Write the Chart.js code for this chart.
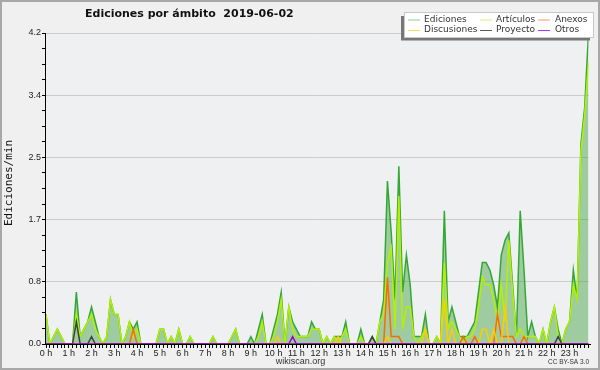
<!DOCTYPE html>
<html><head><meta charset="utf-8">
<script src="https://cdn.jsdelivr.net/npm/chart.js@4"></script>
<style>html,body{margin:0;padding:0;background:#f0f0f0}#wrap{width:600px;height:370px}</style>
</head><body><div id="wrap"><canvas id="c" width="600" height="370"></canvas></div>
<script>
const chartTitle = 'Ediciones por ámbito  2019-06-02';
const yTitle = 'Ediciones/min';
const hourLabels = ['0 h','1 h','2 h','3 h','4 h','5 h','6 h','7 h','8 h','9 h','10 h','11 h','12 h','13 h','14 h','15 h','16 h','17 h','18 h','19 h','20 h','21 h','22 h','23 h'];
const yTickLabels = ['0.0','0.8','1.7','2.5','3.4','4.2'];
const yMax = 4.2;
const seriesNames = ['Ediciones','Artículos','Anexos','Discusiones','Proyecto','Otros'];

// one value per 10 minutes (edits/min)
const ediciones = [
 0.4,0,0.1,0.2,0.1,0,0,0,0.7,0.1,
 0.2,0.3,0.5,0.3,0.1,0,0.1,0.6,0.4,0.4,
 0,0.1,0.3,0.2,0.3,0,0,0,0,0,
 0.2,0.2,0,0.1,0,0.2,0,0,0.1,0,
 0,0,0,0,0.1,0,0,0,0,0.1,
 0.2,0,0,0,0.1,0,0.2,0.4,0,0,
 0.2,0.4,0.7,0,0.5,0.3,0.2,0.1,0.1,0.1,
 0.3,0.2,0.2,0,0.1,0,0.1,0.1,0.1,0.3,
 0,0,0,0.2,0,0,0.1,0,0.3,0.6,
 2.2,1.5,0.6,2.4,0.7,1.2,0.8,0.1,0.1,0.1,
 0.4,0,0,0.1,0,1.8,0.3,0.5,0.3,0.1,
 0.1,0.1,0.2,0.3,0.7,1.1,1.1,1.0,0.8,0.5,
 1.2,1.4,1.5,0.8,0.1,1.8,1.0,0.1,0.3,0.1,
 0,0.2,0,0.3,0.5,0.2,0,0.2,0.3,1.0,
 0.6,2.7,3.2,4.2];
const articulos = [
 0.4,0,0.1,0.2,0.1,0,0,0,0.4,0.1,
 0.2,0.3,0.4,0.2,0.1,0,0.1,0.6,0.4,0.4,
 0,0.1,0.3,0.1,0.2,0,0,0,0,0,
 0.2,0.2,0,0.1,0,0.2,0,0,0.1,0,
 0,0,0,0,0.1,0,0,0,0,0.1,
 0.2,0,0,0,0,0,0.1,0.3,0,0,
 0.1,0.3,0.6,0,0.5,0.2,0.1,0.1,0.1,0.1,
 0.2,0.2,0.2,0,0.1,0,0.1,0,0.1,0.2,
 0,0,0,0.1,0,0,0,0,0.3,0.4,
 1.1,1.3,0.2,2.0,0.2,0.5,0.5,0.1,0,0.1,
 0.2,0,0,0.1,0,1.1,0.2,0.3,0.2,0.1,
 0,0.1,0.1,0.2,0.5,0.9,0.8,0.8,0.6,0.3,
 0.8,0.3,1.4,0.7,0.1,0.2,0.1,0.1,0.1,0.1,
 0,0.2,0,0.3,0.5,0.1,0,0.2,0.3,0.8,
 0.6,2.6,3.1,3.8];
const anexos = [
 0,0,0,0,0,0,0,0,0,0,
 0,0,0,0,0,0,0,0,0,0,
 0,0,0,0.2,0,0,0,0,0,0,
 0,0,0,0,0,0,0,0,0,0,
 0,0,0,0,0,0,0,0,0,0,
 0,0,0,0,0,0,0,0,0,0,
 0,0,0,0,0,0,0,0,0,0,
 0,0,0,0,0,0,0,0,0,0,
 0,0,0,0,0,0,0,0,0,0,
 0.9,0.1,0.1,0.1,0,0,0,0,0,0,
 0,0,0,0,0,0,0,0,0,0,
 0.1,0,0,0.1,0,0,0,0,0,0.4,
 0.1,0.1,0.1,0.1,0,0,0.1,0,0,0,
 0,0,0,0,0,0,0,0,0,0,
 0,0,0,0];
const discusiones = [
 0,0,0,0,0,0,0,0,0,0,
 0,0,0,0,0,0,0,0,0,0,
 0,0,0,0,0,0,0,0,0,0,
 0,0,0,0,0,0,0,0,0,0,
 0,0,0,0,0,0,0,0,0,0,
 0,0,0,0,0,0,0,0,0,0,
 0,0.1,0,0,0,0,0,0,0,0,
 0,0,0,0,0,0,0,0.1,0,0,
 0,0,0,0,0,0,0,0,0,0,
 0.1,0,0,0,0,0,0,0,0,0,
 0.2,0,0,0,0,0.6,0,0.2,0,0,
 0,0,0,0,0,0.2,0.2,0,0.2,0,
 0,0.5,0,0,0,0,0,0,0,0,
 0,0,0,0,0,0,0,0,0,0,
 0,0,0,0];
const proyecto = [
 0,0,0,0,0,0,0,0,0.3,0,
 0,0,0.1,0,0,0,0,0,0,0,
 0,0,0,0,0,0,0,0,0,0,
 0,0,0,0,0,0,0,0,0,0,
 0,0,0,0,0,0,0,0,0,0,
 0,0,0,0,0,0,0,0,0,0,
 0,0,0,0,0,0,0,0,0,0,
 0,0,0,0,0,0,0,0,0,0,
 0,0,0,0,0,0,0.1,0,0,0,
 0,0,0,0,0,0,0,0,0,0,
 0,0,0,0,0,0,0,0,0,0,
 0,0,0,0,0,0,0,0,0,0,
 0,0,0,0,0,0,0,0,0,0,
 0,0,0,0,0,0.1,0,0,0,0,
 0,0,0,0];
const otros = [
 0,0,0,0,0,0,0,0,0,0,
 0,0,0,0,0,0,0,0,0,0,
 0,0,0,0,0,0,0,0,0,0,
 0,0,0,0,0,0,0,0,0,0,
 0,0,0,0,0,0,0,0,0,0,
 0,0,0,0,0,0,0,0,0,0,
 0,0,0,0,0,0.1,0,0,0,0,
 0,0,0,0,0,0,0,0,0,0,
 0,0,0,0,0,0,0,0,0,0,
 0,0,0,0,0,0,0,0,0,0,
 0,0,0,0,0,0,0,0,0,0,
 0,0,0,0,0,0,0,0,0,0,
 0,0,0,0,0,0,0,0,0,0,
 0,0,0,0,0,0,0,0,0,0,
 0,0,0,0];

const lineColors = ['#33a833','#b4f000','#ff6a00','#ffcc00','#404040','#9a00d0'];
const legendColors = ['#88d888','#d4f27a','#ff9c6a','#ffdc60','#5a5a5a','#9a40f0'];

const pts = arr => arr.map((v,i)=>({x:i,y:v}));
const N = ediciones.length;

const deco = {
  id:'deco',
  beforeDraw(chart){
    const c = chart.ctx, a = chart.chartArea;
    c.save();
    c.fillStyle = '#f0f0f0';
    c.fillRect(0,0,chart.width,chart.height);
    c.fillStyle = '#eef0f2';
    c.fillRect(a.left, a.top, a.right - a.left + 1, a.bottom - a.top);
    c.restore();
  },
  afterDatasetsDraw(chart){
    const c = chart.ctx, a = chart.chartArea;
    c.save();
    c.fillStyle = '#000';
    c.fillRect(Math.round(a.left)-1, Math.round(a.top), 1, Math.round(a.bottom - a.top)+1);
    c.fillRect(Math.round(a.left)-1, Math.round(a.bottom), Math.round(a.right - a.left)+3, 1);
    c.restore();
  },
  afterDraw(chart){
    const c = chart.ctx;
    c.save();
    // frame
    c.strokeStyle = '#a8a8a8'; c.lineWidth = 2;
    c.strokeRect(1,1,598,368);
    // title
    c.fillStyle = '#111';
    c.font = 'bold 11px "DejaVu Sans"';
    c.textAlign = 'left'; c.textBaseline = 'middle';
    c.fillText(chartTitle, 85, 14.5);
    // y title
    c.save();
    c.translate(9.5, 183);
    c.rotate(-Math.PI/2);
    c.font = '11px "DejaVu Sans Mono"';
    c.textAlign = 'center'; c.textBaseline = 'middle';
    c.fillStyle = '#111';
    c.fillText(yTitle, 0, 0);
    c.restore();
    // legend box with shadow
    c.fillStyle = '#777';
    c.fillRect(401, 16, 189, 24.5);
    c.fillStyle = '#fff';
    c.fillRect(404, 12.5, 189.5, 25);
    c.strokeStyle = '#c8c8c8'; c.lineWidth = 1;
    c.strokeRect(404.5, 12.5, 189, 25);
    const cols = [[408,424],[480,496],[538,555]];
    const rows = [19.5, 30];
    c.font = '9px "DejaVu Sans"';
    c.textAlign = 'left'; c.textBaseline = 'middle';
    seriesNames.forEach((name,k)=>{
      const col = cols[k % 3], row = rows[Math.floor(k / 3)];
      c.strokeStyle = legendColors[k]; c.lineWidth = 1;
      c.beginPath(); c.moveTo(col[0], row+0.5); c.lineTo(col[0]+12, row+0.5); c.stroke();
      c.fillStyle = '#333';
      c.fillText(name, col[1], row);
    });
    // footer
    c.fillStyle = '#333';
    c.font = '9px "Liberation Sans"';
    c.textAlign = 'center';
    c.fillText('wikiscan.org', 300.5, 361.5);
    c.font = '6.5px "Liberation Sans"';
    c.textAlign = 'right';
    c.fillText('CC BY-SA 3.0', 589, 362);
    c.restore();
  }
};

const mk = (k, arr, extra) => Object.assign({
  label: seriesNames[k], data: pts(arr), borderColor: lineColors[k],
  borderWidth: 1.5, fill: false, pointRadius: 0, tension: 0, order: 6 - k
}, extra || {});

new Chart(document.getElementById('c'), {
  type: 'line',
  data: { datasets: [
    mk(0, ediciones, {fill:'origin', backgroundColor:'rgba(60,160,60,0.45)'}),
    mk(1, articulos),
    mk(2, anexos),
    mk(3, discusiones),
    mk(4, proyecto),
    mk(5, otros)
  ]},
  options: {
    responsive: false, animation: false, devicePixelRatio: 1,
    layout: { padding: { left: 0, right: 11.5, top: 33, bottom: 0 } },
    plugins: { legend: {display:false}, title: {display:false}, tooltip: {enabled:false} },
    scales: {
      x: {
        type: 'linear', min: 0, max: N - 1,
        afterFit: s => { s.height = 26; },
        afterBuildTicks: s => { s.ticks = Array.from({length: N}, (_, i) => ({value: i})); },
        ticks: { autoSkip: false, maxRotation: 0, minRotation: 0, padding: 0, color: '#222',
          font: { family: 'Liberation Sans', size: 9 },
          callback: v => (v % 6 === 0 ? hourLabels[v / 6] : '') },
        grid: { drawOnChartArea: false, tickLength: 4, tickColor: '#000', lineWidth: 1 },
        border: { display: false }
      },
      y: {
        min: 0, max: yMax,
        afterFit: s => { s.width = 46; },
        afterBuildTicks: s => { s.ticks = Array.from({length: 21}, (_, k) => ({value: Math.round(k * 21) / 100})); },
        ticks: { padding: 1, color: '#222', font: { family: 'Liberation Sans', size: 9 },
          callback: (v, i) => (i % 4 === 0 ? yTickLabels[i / 4] : '') },
        grid: { color: ctx => (ctx.index > 0 && ctx.index % 4 === 0 ? '#cccccc' : 'rgba(0,0,0,0)'),
          tickLength: 4, tickColor: '#000', lineWidth: 1 },
        border: { display: false }
      }
    }
  },
  plugins: [deco]
});
</script></body></html>
